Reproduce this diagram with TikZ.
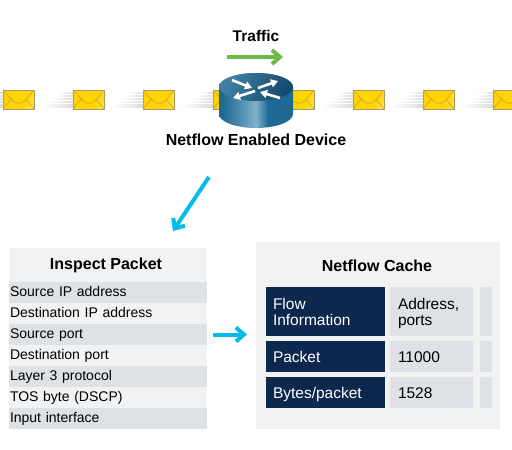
\documentclass[tikz,border=0pt]{standalone}
\usepackage{fontspec}
\setmainfont{Liberation Sans}
\usetikzlibrary{positioning,arrows.meta}
\definecolor{cellgray}{HTML}{DEE1E6}
\definecolor{panelgray}{HTML}{F2F2F3}
\definecolor{navycell}{HTML}{0D274D}
\definecolor{flowblue}{HTML}{00BCEB}
\definecolor{trafficgreen}{HTML}{6CBB45}
\definecolor{routerdark}{HTML}{154A6C}
\definecolor{routermid}{HTML}{1F6A94}
\definecolor{routerlight}{HTML}{7FB0CA}
\definecolor{envyellow}{HTML}{FFD400}
\definecolor{envlight}{HTML}{FFEC8C}
\definecolor{envedge}{HTML}{A89A62}
\definecolor{envfold}{HTML}{C9A93A}
\pgfdeclarehorizontalshading{routerside}{100bp}{
  color(0bp)=(routerdark); color(28bp)=(routermid); color(50bp)=(routerlight);
  color(58bp)=(routermid); color(78bp)=(routermid); color(100bp)=(routerdark)}
\pgfdeclarehorizontalshading{envglow}{100bp}{
  color(0bp)=(envyellow); color(62bp)=(envyellow); color(100bp)=(envlight)}
\tikzset{
  every node/.style={outer sep=0},
  heading/.style={font=\fontsize{16}{18}\selectfont\bfseries},
  pktrow/.style={minimum height=21,text width=196,inner xsep=1,inner ysep=0,text height=11,text depth=3,align=left,font=\fontsize{14}{16}\selectfont},
  pktdark/.style={pktrow,fill=cellgray},
  pktlight/.style={pktrow,fill=panelgray},
  namecell/.style={fill=navycell,text=white,text width=105,inner xsep=7,inner ysep=0,minimum height=31,text height=13,text depth=2,align=left,font=\fontsize{15.5}{16}\selectfont},
  valcell/.style={fill=cellgray,text width=67,inner xsep=8,inner ysep=0,minimum height=31,text height=13,text depth=2,align=left,font=\fontsize{15.5}{16}\selectfont},
  morecell/.style={fill=cellgray,minimum width=12,minimum height=31,inner sep=0},
  bluearrow/.style={draw=flowblue,line width=4,-{Straight Barb[length=8,width=14]}},
  greenarrow/.style={draw=trafficgreen,line width=4,-{Straight Barb[length=8,width=14]}},
  pics/envelope/.style={code={
    \shade[shading=envglow,shading angle=-30] (0,0) rectangle (31,19);
    \draw[envedge,line width=1] (0,0) rectangle (31,19);
    \draw[envfold,line width=.7] (0,0) -- (10,11) .. controls (14,14) and (18,14) .. (22,11) -- (31,0);
    \draw[envfold,line width=.7] (0,19) -- (9,8);
    \draw[envfold,line width=.7] (31,19) -- (23,9);
    \foreach \ly/\lx in {3/-13,6/-17,9/-21,12/-25,15/-29,17/-33}
      \shade[left color=white,right color=black!14] (\lx,\ly-.6) rectangle (0,\ly+.6);
  }}
}
\begin{document}
\begin{tikzpicture}[x=1pt,y=-1pt]
\useasboundingbox (0,0) rectangle (512,450);
\begin{scope}
\clip (0,0) rectangle (512,450);
\foreach \ex in {3,73,143,213,283,353,423,493}
  \pic at (\ex,90) {envelope};
\end{scope}
\shade[shading=routerside] (219,87) -- (219,114) arc[start angle=180,end angle=0,x radius=37,y radius=14] -- (293,87) arc[start angle=0,end angle=-180,x radius=37,y radius=14] -- cycle;
\shade[left color=routermid!85!white,right color=routerdark,shading angle=60] (256,87) ellipse[x radius=37,y radius=14];
\foreach \ax/\ay/\bx/\by in {232/80/252/88,258/88/278/81,255/91/233/98,280/98/260/92}
  \draw[white,line width=2.6,-{Triangle[length=7,width=8]}] (\ax,\ay) -- (\bx,\by);

\node[font=\fontsize{15.5}{18}\selectfont\bfseries] (traffic) at (256,36) {Traffic};
\coordinate (greenstart) at (227,57);
\coordinate (greenend) at (283,57);
\draw[greenarrow] (greenstart) -- (greenend);
\node[heading] (device) at (256,140) {Netflow Enabled Device};
\coordinate (diagstart) at (209,177);
\coordinate (diagend) at (173,231);
\draw[bluearrow] (diagstart) -- (diagend);

\node[fill=panelgray,minimum width=198,minimum height=34,inner sep=0] (pktpanel) at (108,265) {};
\node[heading] (pkttitle) at (106,265) {Inspect Packet};
\node[pktdark,below=0pt of pktpanel] (srcip) {Source IP address};
\node[pktlight,below=0pt of srcip] (dstip) {Destination IP address};
\node[pktdark,below=0pt of dstip] (srcport) {Source port};
\node[pktlight,below=0pt of srcport] (dstport) {Destination port};
\node[pktdark,below=0pt of dstport] (layer3) {Layer 3 protocol};
\node[pktlight,below=0pt of layer3] (tos) {TOS byte (DSCP)};
\node[pktdark,below=0pt of tos] (input) {Input interface};

\node[fill=panelgray,minimum width=244,minimum height=187,inner sep=0] (cache) at (378,335.5) {};
\node[heading] (cachetitle) at (377,266) {Netflow Cache};
\node[namecell,minimum height=49,text depth=18] (flowinfo) at (325.5,311.5) {Flow\\Information};
\node[valcell,minimum height=49,text depth=18,right=5pt of flowinfo] (flowval) {Address,\\ports};
\node[morecell,minimum height=49,right=7pt of flowval] (flowmore) {};
\node[namecell,below=5pt of flowinfo] (packet) {Packet};
\node[valcell,right=5pt of packet] (packetval) {11000};
\node[morecell,right=7pt of packetval] (packetmore) {};
\node[namecell,below=5pt of packet] (bytes) {Bytes/packet};
\node[valcell,right=5pt of bytes] (bytesval) {1528};
\node[morecell,right=7pt of bytesval] (bytesmore) {};

\draw[bluearrow] ([xshift=6]srcport.east) -- ([xshift=-9]cache.west |- srcport);
\end{tikzpicture}
\end{document}
